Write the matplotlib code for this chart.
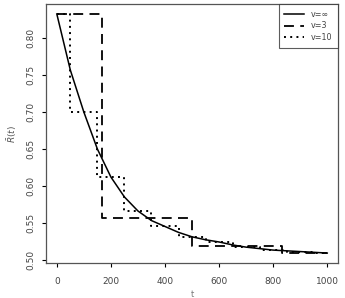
import matplotlib
matplotlib.use("Agg")
import matplotlib.pyplot as plt
import numpy as np

# Smooth curve (v = infinity)
t_curve = [0, 50, 100, 150, 200, 250, 300, 350, 400, 450, 500, 550, 600, 650,
           700, 750, 800, 850, 900, 950, 1000]
r_curve = [0.833, 0.757, 0.700, 0.650, 0.612, 0.585, 0.566, 0.553, 0.545, 0.537,
           0.531, 0.527, 0.524, 0.520, 0.517, 0.515, 0.513, 0.512, 0.511, 0.510, 0.509]

# Step approximation, v = 3
v3_edges = [0, 166.7, 500, 833.3, 1000]
v3_vals = [0.833, 0.557, 0.519, 0.509]

# Step approximation, v = 10
v10_edges = [0, 50, 150, 250, 350, 450, 550, 650, 750, 850, 950, 1000]
v10_vals = [0.833, 0.700, 0.612, 0.566, 0.545, 0.531, 0.524, 0.517, 0.513, 0.511, 0.509]

legend_labels = ["v=\u221e", "v=3", "v=10"]
x_ticks = [0, 200, 400, 600, 800, 1000]
y_ticks = [0.50, 0.55, 0.60, 0.65, 0.70, 0.75, 0.80]

def step_xy(edges, vals):
    xs, ys = [], []
    for i, v in enumerate(vals):
        xs += [edges[i], edges[i + 1]]
        ys += [v, v]
    return xs, ys

fig = plt.figure(figsize=(3.45, 2.98), dpi=100)
ax = fig.add_axes([0.1333, 0.1174, 0.8467, 0.8692])

ax.plot(t_curve, r_curve, color="black", lw=1.1, label=legend_labels[0])
x3, y3 = step_xy(v3_edges, v3_vals)
ax.plot(x3, y3, color="black", lw=1.3, dashes=(5.5, 3.5), label=legend_labels[1])
x10, y10 = step_xy(v10_edges, v10_vals)
ax.plot(x10, y10, color="black", lw=1.4, dashes=(1, 2.2), label=legend_labels[2])

ax.set_xlim(-40, 1040)
ax.set_ylim(0.4955, 0.8465)
ax.set_xticks(x_ticks)
ax.set_yticks(y_ticks)
ax.set_xticklabels([str(v) for v in x_ticks])
ax.set_yticklabels(["%.2f" % v for v in y_ticks], rotation=90, va="center")
ax.tick_params(axis="both", labelsize=6.5, length=3, width=0.8,
               direction="out", colors="black", labelcolor="#444444")
ax.tick_params(axis="x", pad=7)
ax.tick_params(axis="y", pad=5)
for s in ax.spines.values():
    s.set_color("#555555")
    s.set_linewidth(0.9)

ax.set_ylabel(r"$\bar{R}(t)$", fontsize=6.5, color="#555555", labelpad=5)
ax.set_xlabel("t", fontsize=6, color="#777777", labelpad=3)

leg = ax.legend(loc="upper right", fontsize=5.8, frameon=True, fancybox=False,
                borderaxespad=0, handlelength=2.4, handletextpad=0.9,
                labelspacing=0.35, borderpad=0.7)
leg.get_frame().set_edgecolor("#333333")
leg.get_frame().set_linewidth(0.8)
for txt in leg.get_texts():
    txt.set_color("#444444")

fig.savefig("out.png", dpi=100)
